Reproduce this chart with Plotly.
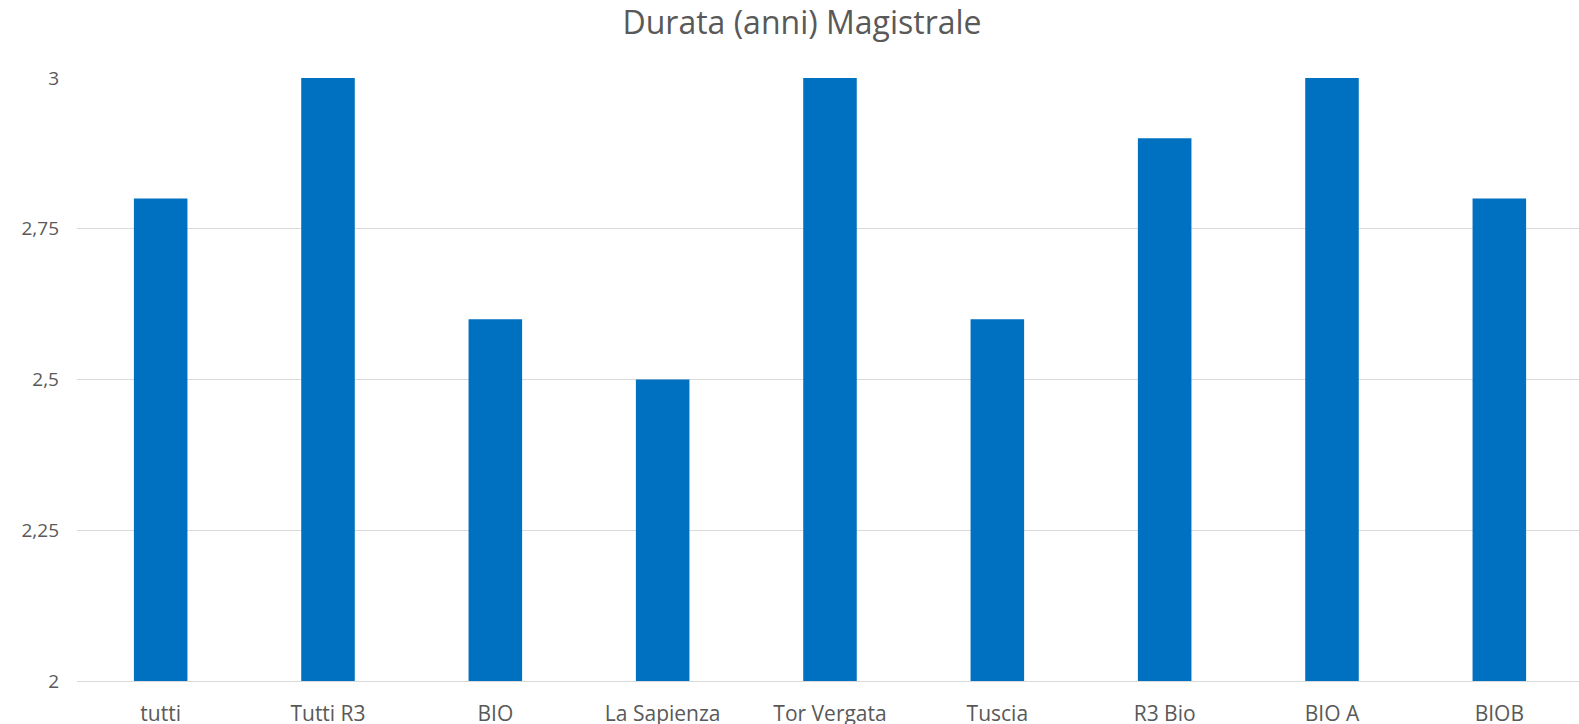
import plotly.graph_objects as go

categories = ["tutti", "Tutti R3", "BIO", "La Sapienza", "Tor Vergata", "Tuscia", "R3 Bio", "BIO A", "BIOB"]
values = [2.8, 3.0, 2.6, 2.5, 3.0, 2.6, 2.9, 3.0, 2.8]
tick_vals = [2, 2.25, 2.5, 2.75, 3]
tick_text = ["2", "2,25", "2,5", "2,75", "3"]

fig = go.Figure(go.Bar(x=categories, y=values, marker=dict(color="#0070C0", line=dict(width=0)), width=0.32))

fig.update_layout(
    width=1585, height=724,
    title=dict(text="Durata (anni) Magistrale", x=0.506, xanchor="center", y=0.968, yanchor="middle",
               font=dict(family="Open Sans", size=32, color="#595959")),
    font=dict(family="Open Sans", size=21, color="#595959"),
    plot_bgcolor="white", paper_bgcolor="white",
    margin=dict(l=77, r=2, t=78, b=43),
    showlegend=False,
    bargap=0.68,
)
fig.update_yaxes(range=[2, 3], tickvals=tick_vals, ticktext=tick_text, showgrid=True,
                 gridcolor="#D9D9D9", gridwidth=1, zeroline=False, showline=False, ticks="",
                 ticklabelstandoff=17, automargin=False, tickfont=dict(size=19, color="#595959"))
fig.update_xaxes(showline=True, linecolor="#D9D9D9", linewidth=1, ticks="", showgrid=False,
                 ticklabelstandoff=14, automargin=False, tickfont=dict(size=21, color="#595959"))

fig.write_html("out.html", config={"displayModeBar": False},
               post_script="document.body.style.margin='0';document.body.style.overflow='hidden';")
